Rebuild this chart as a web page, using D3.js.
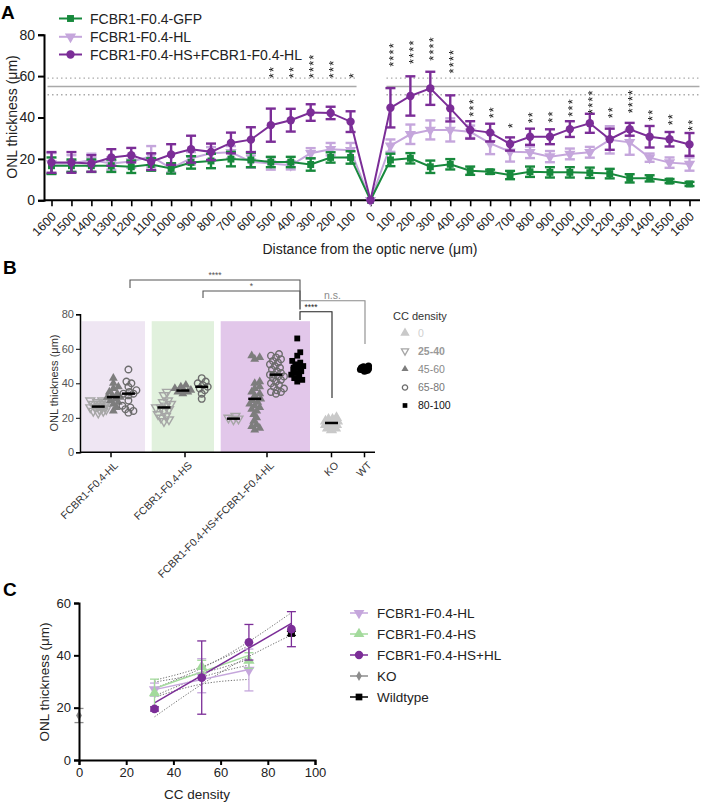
<!DOCTYPE html>
<html><head><meta charset="utf-8">
<script src="https://cdn.jsdelivr.net/npm/d3@7"></script>
<style>body{margin:0;background:#fff} svg{font-family:"Liberation Sans",Arial,sans-serif}</style>
</head><body><svg id="c" width="705" height="803"><defs><filter id="gray" x="0" y="0" width="1" height="1" filterUnits="userSpaceOnUse"><feColorMatrix type="saturate" values="0"/></filter></defs></svg>
<script>
// ================= DATA =================
// Panel A
const distances = [-1600,-1500,-1400,-1300,-1200,-1100,-1000,-900,-800,-700,-600,-500,-400,-300,-200,-100,0,100,200,300,400,500,600,700,800,900,1000,1100,1200,1300,1400,1500,1600];
const seriesNamesA = ["FCBR1-F0.4-GFP","FCBR1-F0.4-HL","FCBR1-F0.4-HS+FCBR1-F0.4-HL"];
const gfpMean = [16.7,16.7,16.7,16.7,16.2,17.3,15.4,18.3,19.0,19.9,19.5,18.5,18.5,17.3,20.7,20.7,0,19.5,20.3,16.2,17.4,14.3,13.8,12.2,13.8,13.5,13.5,13.3,12.9,10.6,10.6,9.3,7.9];
const gfpErr  = [4,3,3,3,3,3,2.5,3,3.5,3.5,3.5,2.5,2.5,3,2.5,3,0,3,2.5,3,2.5,2,1,2,2.5,2.5,2.5,2.5,2.3,2,1.5,1,1];
const hlMean  = [17.8,17.8,19.5,17.8,18.7,21.2,15.4,20.3,22.7,23.2,18.7,17.8,16.9,22.7,24.7,24.2,0,26.4,31.9,34.0,34.0,33.1,27.5,23.5,23.2,21.1,22.4,23.2,29.2,28.0,20.6,18.2,17.5];
const hlErr   = [5,4,3,3,3,5,2,3,3,3,3,3,2,2.5,3,3.5,0,3,4.7,4.6,5.6,3,5.2,4.8,2.8,2.7,2.6,2.6,6.6,6,2,2.5,3.2];
const hshlMean= [18.3,18.3,17.8,20.7,21.8,18.7,22.1,24.7,23.4,27.7,29.3,36.3,38.7,42.4,42.2,38.0,0,44.7,50.4,54.1,44.4,34.0,32.7,27.2,30.7,30.7,34.4,37.2,29.5,34.3,30.7,29.5,27.0];
const hshlErr = [5,5,4,4,3.5,4,5,6.5,4,5,6,8,5.5,4,3,5,0,9.5,9.5,8,6.3,4.2,4.3,3.2,3.9,3.6,3.8,4.6,5.1,3.1,5.2,3.5,5.5];
const sigA    = ["","","","","","","","","","","","**","**","****","***","*","","****","****","****","****","***","**","*","**","**","***","****","**","****","**","**","**"];
const sigBaseA= [0,0,0,0,0,0,0,0,0,0,0,59,59,59,59,59,0,64.5,65.8,67.4,61.3,40.4,39.6,34.8,37.2,37.5,40.4,41.7,39.6,42.0,38.3,36.2,33.5];
const wtRef = [51, 55, 59]; // lower, mean, upper
const yTicksA = [0,20,40,60,80];

// Panel B
const groupsB = ["FCBR1-F0.4-HL","FCBR1-F0.4-HS","FCBR1-F0.4-HS+FCBR1-F0.4-HL","KO","WT"];
const ccCats = ["0","25-40","45-60","65-80","80-100"];
const bHL_2540 = [23,24,24,25,25,26,26,26,27,27,28,28,29,29,30,30];
const bHL_4560 = [24,26,28,29,30,31,32,32,33,34,35,37,38,40,43];
const bHL_6580 = [23,24,25,26,27,30,33,34,34,35,36,38,40,41,48];
const bHS_2540 = [18,19,20,21,22,24,25,26,26,27,28,29,30,33,35];
const bHS_4560 = [34,35,35,36,36,37,38,39];
const bHS_6580 = [31,34,36,37,38,39,40,41,43];
const bHSHL_2540 = [19,19.5,20,21];
const bHSHL_4560 = [13,14,15,16,18,20,22,24,25,26,27,28,29,30,31,33,34,35,37,38,40,41,54,55,56];
const bHSHL_6580 = [34,35,35,36,37,38,39,40,41,42,43,44,44,45,45,46,47,48,49,50,51,52,53,54,55,56,57];
const bHSHL_80100 = [41,42,43,44,45,46,47,48,49,50,51,52,53,56,58,66];
const bKO_0 = [13,14,14,15,15,16,16,17,17,17,18,18,19,19,20];
const bWT = [47,47.5,48,48,48,48.5,48.5,49,49,49.5,50];
const medHL = [26.5,32,34];
const medHS = [26,35.8,38];
const medHSHL = [19.5,31,45,50];
const medKO = 17;
const sigB = ["****","*","n.s.","****"];
const yTicksB = [0,20,40,60,80];

// Panel C
const seriesNamesC = ["FCBR1-F0.4-HL","FCBR1-F0.4-HS","FCBR1-F0.4-HS+HL","KO","Wildtype"];
const cX3 = [32,52,72];
const cHLmean = [26.9,32.2,34.4];
const cHLerr = [2.5,6.5,8.0];
const cHSmean = [25.6,35.6,38.0];
const cHSerr = [5.3,2.5,3.0];
const cX4 = [32,52,72,90];
const cHSHLmean = [19.5,31.5,45.0,50.0];
const cHSHLerr = [0.8,14.0,6.8,6.7];
const cKOx = [0], cKOmean = [17], cKOerr = [2.7];
const cWTx = [90], cWTmean = [48.4], cWTerr = [0.8];
const fitHL = [[32,26.9],[72,34.6]];
const fitHS = [[32,27.3],[72,40.0]];
const fitHSHL = [[32,21.8],[90,52.2]];
const ciHL = [[32,24.0,29.8],[52,29.0,33.2],[72,30.8,38.5]];
const ciHS = [[32,24.5,30.5],[52,31.6,35.6],[72,36.3,43.7]];
const ciHSHL = [[32,16.5,27.3],[61,34.0,39.3],[90,47.8,56.3]];
const xTicksC = [0,20,40,60,80,100];
const yTicksC = [0,20,40,60];

// ================= DRAW =================
const svg = d3.select("#c");
d3.select("#gray").attr("width",705).attr("height",803);
const C_GFP = "#17893c", C_HL = "#c5a6dc", C_HSHL = "#7b2d97", C_HS = "#a3da9c";

const triDown = { draw(ctx, size){ const s=Math.sqrt(size/ (Math.sqrt(3)/4)); const h=s*Math.sqrt(3)/2; ctx.moveTo(-s/2,-h/3); ctx.lineTo(s/2,-h/3); ctx.lineTo(0,2*h/3); ctx.closePath(); } };
const triUp = { draw(ctx, size){ const s=Math.sqrt(size/ (Math.sqrt(3)/4)); const h=s*Math.sqrt(3)/2; ctx.moveTo(-s/2,h/3); ctx.lineTo(s/2,h/3); ctx.lineTo(0,-2*h/3); ctx.closePath(); } };

// ---------- Panel A ----------
const xA = d3.scaleLinear().domain([-1600,1600]).range([51.5,689.5]);
const yA = d3.scaleLinear().domain([0,80]).range([200.3,34.7]);
const gA = svg.append("g");
svg.append("text").attr("x",1).attr("y",19).attr("font-size",19).attr("font-weight","bold").text("A");

[[-1620,-70],[80,1650]].forEach(([a,b])=>{
  gA.append("line").attr("x1",xA(a)).attr("x2",xA(b)).attr("y1",yA(wtRef[1])).attr("y2",yA(wtRef[1])).attr("stroke","#a9a9a9").attr("stroke-width",1.6);
  [wtRef[0],wtRef[2]].forEach(v=>gA.append("line").attr("x1",xA(a)).attr("x2",xA(b)).attr("y1",yA(v)).attr("y2",yA(v)).attr("stroke","#aaa").attr("stroke-width",1.3).attr("stroke-dasharray","1.5,3"));
});

const axYA = gA.append("g").attr("transform","translate(44,0)").call(d3.axisLeft(yA).tickValues(yTicksA).tickSize(6).tickPadding(3));
axYA.select(".domain").attr("stroke-width",2);
axYA.selectAll(".tick line").attr("stroke-width",2);
axYA.selectAll("text").attr("font-size",14).attr("fill","#222").style("font-family","Liberation Sans, Arial");
const axXA = gA.append("g").attr("transform",`translate(0,${yA(0)})`).call(d3.axisBottom(xA).tickValues(distances).tickSize(6).tickFormat(d=>Math.abs(d)));
axXA.select(".domain").remove();
gA.append("line").attr("x1",44).attr("x2",700).attr("y1",yA(0)).attr("y2",yA(0)).attr("stroke","#000").attr("stroke-width",2);
axXA.selectAll(".tick line").attr("stroke-width",1.6);
axXA.selectAll("text").attr("font-size",12.5).attr("fill","#222").style("font-family","Liberation Sans, Arial")
  .attr("text-anchor","end").attr("dy",0).attr("y",0).attr("transform","translate(5,17) rotate(-45)");
gA.append("text").attr("x",370).attr("y",254).attr("text-anchor","middle").attr("font-size",14).attr("fill","#222").text("Distance from the optic nerve (μm)");
gA.append("text").attr("transform","translate(17,117) rotate(-90)").attr("text-anchor","middle").attr("font-size",14).attr("fill","#222").text("ONL thickness (μm)");

function drawSeriesA(mean, err, color, symType, size){
  const pts = distances.map((d,i)=>({x:d,y:mean[i],e:err[i]}));
  gA.append("path").datum(pts).attr("fill","none").attr("stroke",color).attr("stroke-width",2)
    .attr("d", d3.line().x(d=>xA(d.x)).y(d=>yA(d.y)));
  const eb = gA.append("g").attr("stroke",color).attr("stroke-width",2.4);
  pts.filter(p=>p.e>0).forEach(p=>{
    const x=xA(p.x);
    eb.append("line").attr("x1",x).attr("x2",x).attr("y1",yA(p.y-p.e)).attr("y2",yA(p.y+p.e));
    [p.y-p.e,p.y+p.e].forEach(v=>eb.append("line").attr("x1",x-5).attr("x2",x+5).attr("y1",yA(v)).attr("y2",yA(v)));
  });
  gA.append("g").selectAll("path").data(pts).join("path")
    .attr("transform",d=>`translate(${xA(d.x)},${yA(d.y)})`)
    .attr("d", d3.symbol().type(symType).size(size)()).attr("fill",color);
}
drawSeriesA(hlMean, hlErr, C_HL, triDown, 55);
drawSeriesA(gfpMean, gfpErr, C_GFP, d3.symbolSquare, 48);
drawSeriesA(hshlMean, hshlErr, C_HSHL, d3.symbolCircle, 55);

// stars: one rotated text per position (stack reads upward)
const STAR_FS = 13;
const gStars = gA.append("g").attr("filter","url(#gray)");
distances.forEach((d,i)=>{
  const s = sigA[i]; if(!s) return;
  gStars.append("text").attr("transform",`translate(${xA(d)+0.57*STAR_FS},${yA(sigBaseA[i])}) rotate(-90)`)
    .attr("font-size",STAR_FS).attr("letter-spacing",1.1).attr("fill","#111").text(s);
});

// legend A
const legA = [[C_GFP,d3.symbolSquare,48],[C_HL,triDown,55],[C_HSHL,d3.symbolCircle,55]];
const legAy = [18.5,36.8,54.5];
seriesNamesA.forEach((n,i)=>{
  const y=legAy[i];
  gA.append("line").attr("x1",59).attr("x2",82).attr("y1",y).attr("y2",y).attr("stroke",legA[i][0]).attr("stroke-width",2);
  gA.append("path").attr("transform",`translate(70.5,${y})`).attr("d",d3.symbol().type(legA[i][1]).size(legA[i][2])()).attr("fill",legA[i][0]);
  gA.append("text").attr("x",90).attr("y",y+5).attr("font-size",14).attr("fill","#222").text(n);
});

// ---------- Panel B ----------
const gB = svg.append("g");
svg.append("text").attr("x",3).attr("y",274).attr("font-size",19).attr("font-weight","bold").text("B");
const yB = d3.scaleLinear().domain([0,80]).range([452.3,314.3]);
const bandB = [[81.7,145],[151.7,214],[220.7,310]];
const bandFill = ["#efe6f3","#e1f1dd","#e2c7ea"];
const tickXB = [111,185,267,331.5,364.5];
bandB.forEach((b,i)=>gB.append("rect").attr("x",b[0]).attr("width",b[1]-b[0]).attr("y",yB(76)).attr("height",yB(0)-yB(76)).attr("fill",bandFill[i]));

const axYB = gB.append("g").attr("transform","translate(80,0)").call(d3.axisLeft(yB).tickValues(yTicksB).tickSize(4).tickPadding(2));
axYB.select(".domain").attr("stroke-width",1.5);
axYB.selectAll("text").attr("font-size",11).attr("fill","#555").style("font-family","Liberation Sans, Arial");
gB.append("line").attr("x1",80).attr("x2",375).attr("y1",yB(0)).attr("y2",yB(0)).attr("stroke","#000").attr("stroke-width",1.5);
groupsB.forEach((g,i)=>{
  gB.append("line").attr("x1",tickXB[i]).attr("x2",tickXB[i]).attr("y1",yB(0)).attr("y2",yB(0)+5).attr("stroke","#000").attr("stroke-width",1.5);
  gB.append("text").attr("transform",`translate(${tickXB[i]+4},${yB(0)+10}) rotate(-45)`).attr("text-anchor","end").attr("dy","0.5em")
    .attr("font-size",10.5).attr("fill","#333").text(g);
});
gB.append("text").attr("transform","translate(58,383) rotate(-90)").attr("text-anchor","middle").attr("font-size",11).attr("fill","#333").text("ONL thickness (μm)");

const styleCC = {
  "0":     {t:triUp, s:34, fill:"#c9c9c9", stroke:"#c9c9c9"},
  "25-40": {t:triDown, s:34, fill:"none", stroke:"#a6a6a6"},
  "45-60": {t:triUp, s:34, fill:"#7d7d7d", stroke:"none"},
  "65-80": {t:d3.symbolCircle, s:34, fill:"none", stroke:"#6c6c6c"},
  "80-100":{t:d3.symbolSquare, s:34, fill:"#000", stroke:"none"},
  "WT":    {t:d3.symbolCircle, s:40, fill:"#000", stroke:"none"}
};
function swarm(vals, cx, maxW, minD){
  const placed=[];
  const sorted = vals.slice().sort((a,b)=>a-b);
  sorted.forEach(v=>{
    const y=yB(v);
    let best=null, bestScore=-1;
    const cands=[0]; for(let k=1;k<=maxW;k++){cands.push(k,-k);}
    for(const c of cands){
      const md = placed.length? d3.min(placed,p=>Math.hypot(p.x-(cx+c),p.y-y)) : 99;
      if(md>=minD){best=c;break;}
      if(md>bestScore){bestScore=md;best=c;}
    }
    placed.push({x:cx+best,y});
  });
  return placed;
}
function drawGroupB(vals, cx, cat, med, maxW, minD){
  const st = styleCC[cat];
  const pts = swarm(vals, cx, maxW, minD);
  gB.append("g").selectAll("path").data(pts).join("path")
    .attr("transform",d=>`translate(${d.x},${d.y})`).attr("d",d3.symbol().type(st.t).size(st.s)())
    .attr("fill",st.fill).attr("stroke",st.stroke).attr("stroke-width",1.4);
  if(med!=null) gB.append("line").attr("x1",cx-6.5).attr("x2",cx+6.5).attr("y1",yB(med)).attr("y2",yB(med)).attr("stroke","#000").attr("stroke-width",2.5);
}
const subHL = d3.scalePoint().domain(["25-40","45-60","65-80"]).range(bandB[0]).padding(1.1);
const subHS = d3.scalePoint().domain(["25-40","45-60","65-80"]).range(bandB[1]).padding(0.65);
const subHSHL = d3.scalePoint().domain(["25-40","45-60","65-80","80-100"]).range(bandB[2]).padding(0.6);
[[bHL_2540,"25-40"],[bHL_4560,"45-60"],[bHL_6580,"65-80"]].forEach(([v,c],i)=>drawGroupB(v, subHL(c), c, medHL[i], 8, 4.5));
[[bHS_2540,"25-40"],[bHS_4560,"45-60"],[bHS_6580,"65-80"]].forEach(([v,c],i)=>drawGroupB(v, subHS(c), c, medHS[i], 8, 4.5));
[[bHSHL_2540,"25-40"],[bHSHL_4560,"45-60"],[bHSHL_6580,"65-80"],[bHSHL_80100,"80-100"]].forEach(([v,c],i)=>drawGroupB(v, subHSHL(c), c, medHSHL[i], 8, 4.5));
drawGroupB(bKO_0, tickXB[3], "0", medKO, 6, 3.5);
drawGroupB(bWT, tickXB[4], "WT", null, 4, 2.5);

// significance brackets
function bracket(x1,x2,yTop,y1b,y2b,label,color,fs,labX){
  gB.append("path").attr("d",`M${x1},${y1b}V${yTop}H${x2}V${y2b}`).attr("fill","none").attr("stroke",color).attr("stroke-width",1.1);
  gB.append("text").attr("x",labX!=null?labX:(x1+x2)/2).attr("y",yTop-2).attr("text-anchor","middle").attr("font-size",fs).attr("fill",color).text(label);
}
bracket(130,300,280,288,309,sigB[0],"#555",8.5);
bracket(203,300,291,298,309,sigB[1],"#555",8.5);
bracket(300,365,300.7,310,344,sigB[2],"#8a8a8a",10.5);
bracket(300,332,311.7,320,398,sigB[3],"#222",8.5,311);

// CC legend
gB.append("text").attr("x",393).attr("y",320).attr("font-size",11).attr("fill","#333").text("CC density");
const legBy=[333,351,369,387.5,405.5];
const legBcol=["#cfcfcf","#999","#888","#777","#111"];
ccCats.forEach((c,i)=>{
  const st=styleCC[c];
  gB.append("path").attr("transform",`translate(405,${legBy[i]})`).attr("d",d3.symbol().type(st.t).size(22)()).attr("fill",st.fill).attr("stroke",st.stroke).attr("stroke-width",1.3);
  gB.append("text").attr("x",418).attr("y",legBy[i]+3.8).attr("font-size",10.5).attr("fill",legBcol[i]).attr("font-weight",i==1?"bold":"normal").text(c);
});

// ---------- Panel C ----------
const gC = svg.append("g");
svg.append("text").attr("x",3).attr("y",596).attr("font-size",19).attr("font-weight","bold").text("C");
const xC = d3.scaleLinear().domain([0,100]).range([79,315]);
const yC = d3.scaleLinear().domain([0,60]).range([760,603]);
const gCplot = gC.append("g");
[ciHL,ciHS,ciHSHL].forEach(ci=>{
  [1,2].forEach(k=>gCplot.append("path").datum(ci).attr("fill","none").attr("stroke","#666").attr("stroke-width",0.9).attr("stroke-dasharray","1.3,1.6")
    .attr("d",d3.line().x(d=>xC(d[0])).y(d=>yC(d[k])).curve(d3.curveNatural)));
});
[[fitHL,C_HL],[fitHS,C_HS],[fitHSHL,C_HSHL]].forEach(([f,c])=>gCplot.append("path").datum(f).attr("fill","none").attr("stroke",c).attr("stroke-width",1.5)
  .attr("d",d3.line().x(d=>xC(d[0])).y(d=>yC(d[1]))));
function drawSeriesC(xs, mean, err, color, symType, size){
  const pts = xs.map((x,i)=>({x,y:mean[i],e:err[i]}));
  const eb=gCplot.append("g").attr("stroke",color).attr("stroke-width",1.3);
  pts.forEach(p=>{
    const x=xC(p.x);
    eb.append("line").attr("x1",x).attr("x2",x).attr("y1",yC(p.y-p.e)).attr("y2",yC(p.y+p.e));
    [p.y-p.e,p.y+p.e].forEach(v=>eb.append("line").attr("x1",x-4.5).attr("x2",x+4.5).attr("y1",yC(v)).attr("y2",yC(v)));
  });
  gCplot.append("g").selectAll("path").data(pts).join("path").attr("transform",d=>`translate(${xC(d.x)},${yC(d.y)})`)
    .attr("d",d3.symbol().type(symType).size(size)()).attr("fill",color);
}
drawSeriesC(cKOx,cKOmean,cKOerr,"#8c8c8c",d3.symbolDiamond,30);
drawSeriesC(cX3,cHLmean,cHLerr,C_HL,triDown,55);
drawSeriesC(cX3,cHSmean,cHSerr,C_HS,triUp,55);
drawSeriesC(cWTx,cWTmean,cWTerr,"#000",d3.symbolSquare,50);
drawSeriesC(cX4,cHSHLmean,cHSHLerr,C_HSHL,d3.symbolCircle,60);

const axYC = gC.append("g").attr("transform","translate(79,0)").call(d3.axisLeft(yC).tickValues(yTicksC).tickSize(5).tickPadding(3));
axYC.select(".domain").attr("stroke-width",2);
axYC.selectAll(".tick line").attr("stroke-width",2);
axYC.selectAll("text").attr("font-size",13).attr("fill","#222").style("font-family","Liberation Sans, Arial");
const axXC = gC.append("g").attr("transform","translate(0,760)").call(d3.axisBottom(xC).tickValues(xTicksC).tickSize(5).tickPadding(3));
axXC.select(".domain").attr("stroke-width",2);
axXC.selectAll(".tick line").attr("stroke-width",2);
axXC.selectAll("text").attr("font-size",13).attr("fill","#222").style("font-family","Liberation Sans, Arial");
gC.append("text").attr("x",197).attr("y",799).attr("text-anchor","middle").attr("font-size",13.5).attr("fill","#222").text("CC density");
gC.append("text").attr("transform","translate(49,682) rotate(-90)").attr("text-anchor","middle").attr("font-size",13.5).attr("fill","#222").text("ONL thickness (μm)");

const legC = [[C_HL,triDown,50],[C_HS,triUp,50],[C_HSHL,d3.symbolCircle,55],["#8c8c8c",d3.symbolDiamond,28],["#000",d3.symbolSquare,45]];
const legCy=[613,634,655,676,697];
seriesNamesC.forEach((n,i)=>{
  const y=legCy[i];
  gC.append("line").attr("x1",350).attr("x2",368).attr("y1",y).attr("y2",y).attr("stroke",legC[i][0]).attr("stroke-width",1.5);
  gC.append("path").attr("transform",`translate(359,${y})`).attr("d",d3.symbol().type(legC[i][1]).size(legC[i][2])()).attr("fill",legC[i][0]);
  gC.append("text").attr("x",377).attr("y",y+5).attr("font-size",13.5).attr("fill","#222").text(n);
});
</script></body></html>
